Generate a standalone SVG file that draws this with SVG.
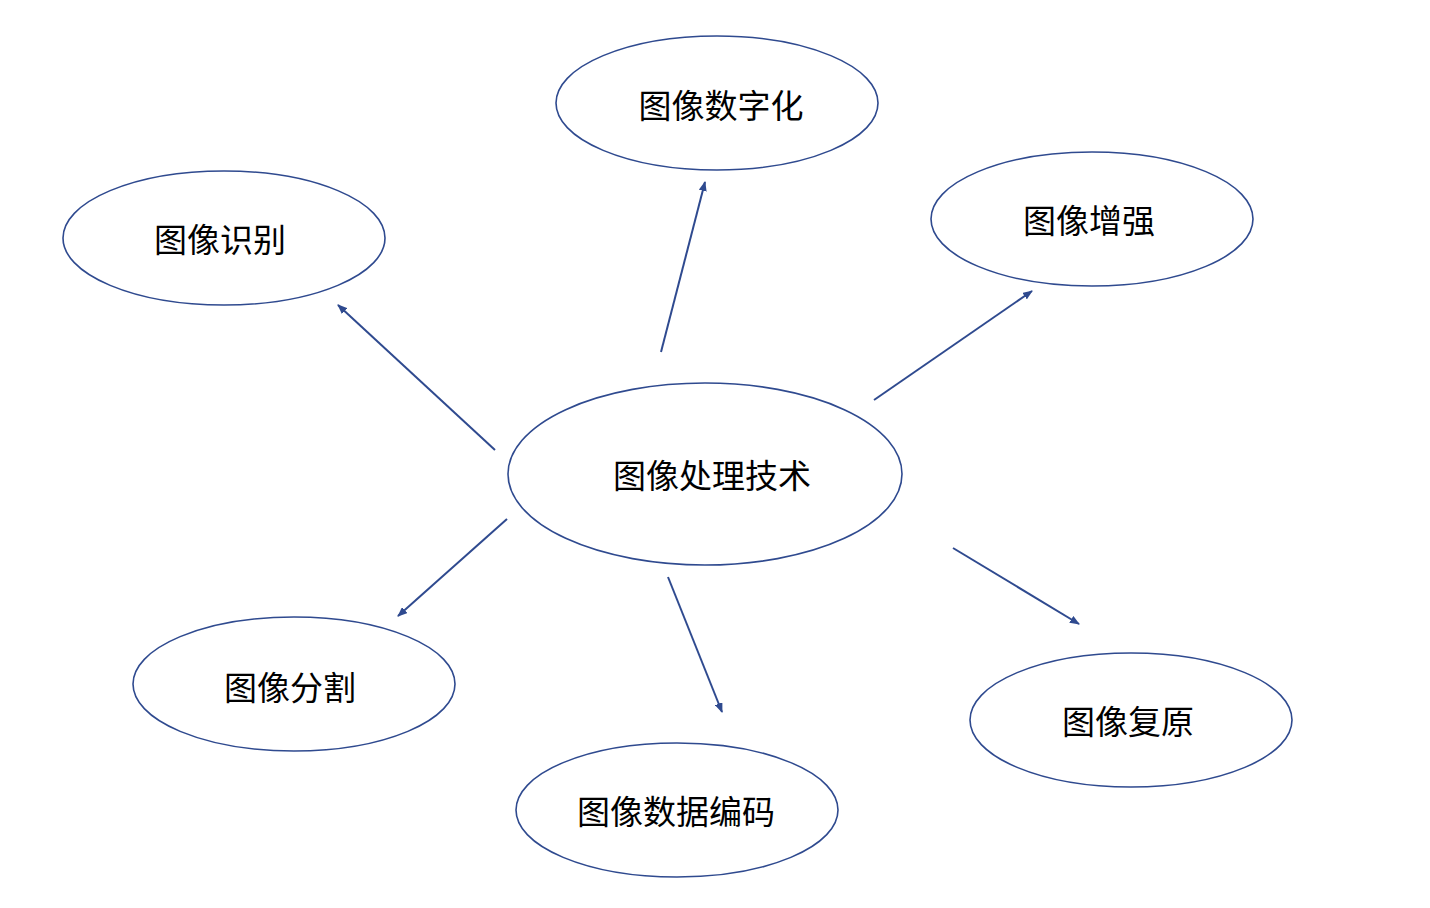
<svg xmlns="http://www.w3.org/2000/svg" width="1430" height="908" viewBox="0 0 1430 908">
<style>
.n ellipse{fill:#fff;stroke:#2F4A8F;stroke-width:1.6}
.n text{font-family:"Noto Sans CJK SC",sans-serif;font-size:33px;fill:#000;text-anchor:middle;dominant-baseline:central}
.c line{stroke:#2F4A8F;stroke-width:2;marker-end:url(#a)}
</style>
<defs><marker id="a" markerWidth="10" markerHeight="8" refX="9" refY="4" orient="auto" markerUnits="userSpaceOnUse"><path d="M0,0L10,4L0,8z" fill="#2F4A8F"/></marker></defs>
<rect width="1430" height="908" fill="#fff"/>
<g class="c">
<line x1="661" y1="352" x2="705" y2="182"/>
<line x1="495" y1="450" x2="338" y2="305"/>
<line x1="874" y1="400" x2="1032" y2="291"/>
<line x1="507" y1="519" x2="398" y2="616"/>
<line x1="668" y1="577" x2="722" y2="712"/>
<line x1="953" y1="548" x2="1079" y2="624"/>
</g>
<g id="center" class="n"><ellipse cx="705" cy="474" rx="197" ry="91"/><text x="712" y="474">图像处理技术</text></g>
<g id="digit" class="n"><ellipse cx="717" cy="103" rx="161" ry="67"/><text x="721" y="104">图像数字化</text></g>
<g id="recog" class="n"><ellipse cx="224" cy="238" rx="161" ry="67"/><text x="220" y="238">图像识别</text></g>
<g id="enh" class="n"><ellipse cx="1092" cy="219" rx="161" ry="67"/><text x="1089" y="219">图像增强</text></g>
<g id="seg" class="n"><ellipse cx="294" cy="684" rx="161" ry="67"/><text x="290" y="686">图像分割</text></g>
<g id="code" class="n"><ellipse cx="677" cy="810" rx="161" ry="67"/><text x="676" y="810">图像数据编码</text></g>
<g id="rest" class="n"><ellipse cx="1131" cy="720" rx="161" ry="67"/><text x="1128" y="720">图像复原</text></g>
</svg>
